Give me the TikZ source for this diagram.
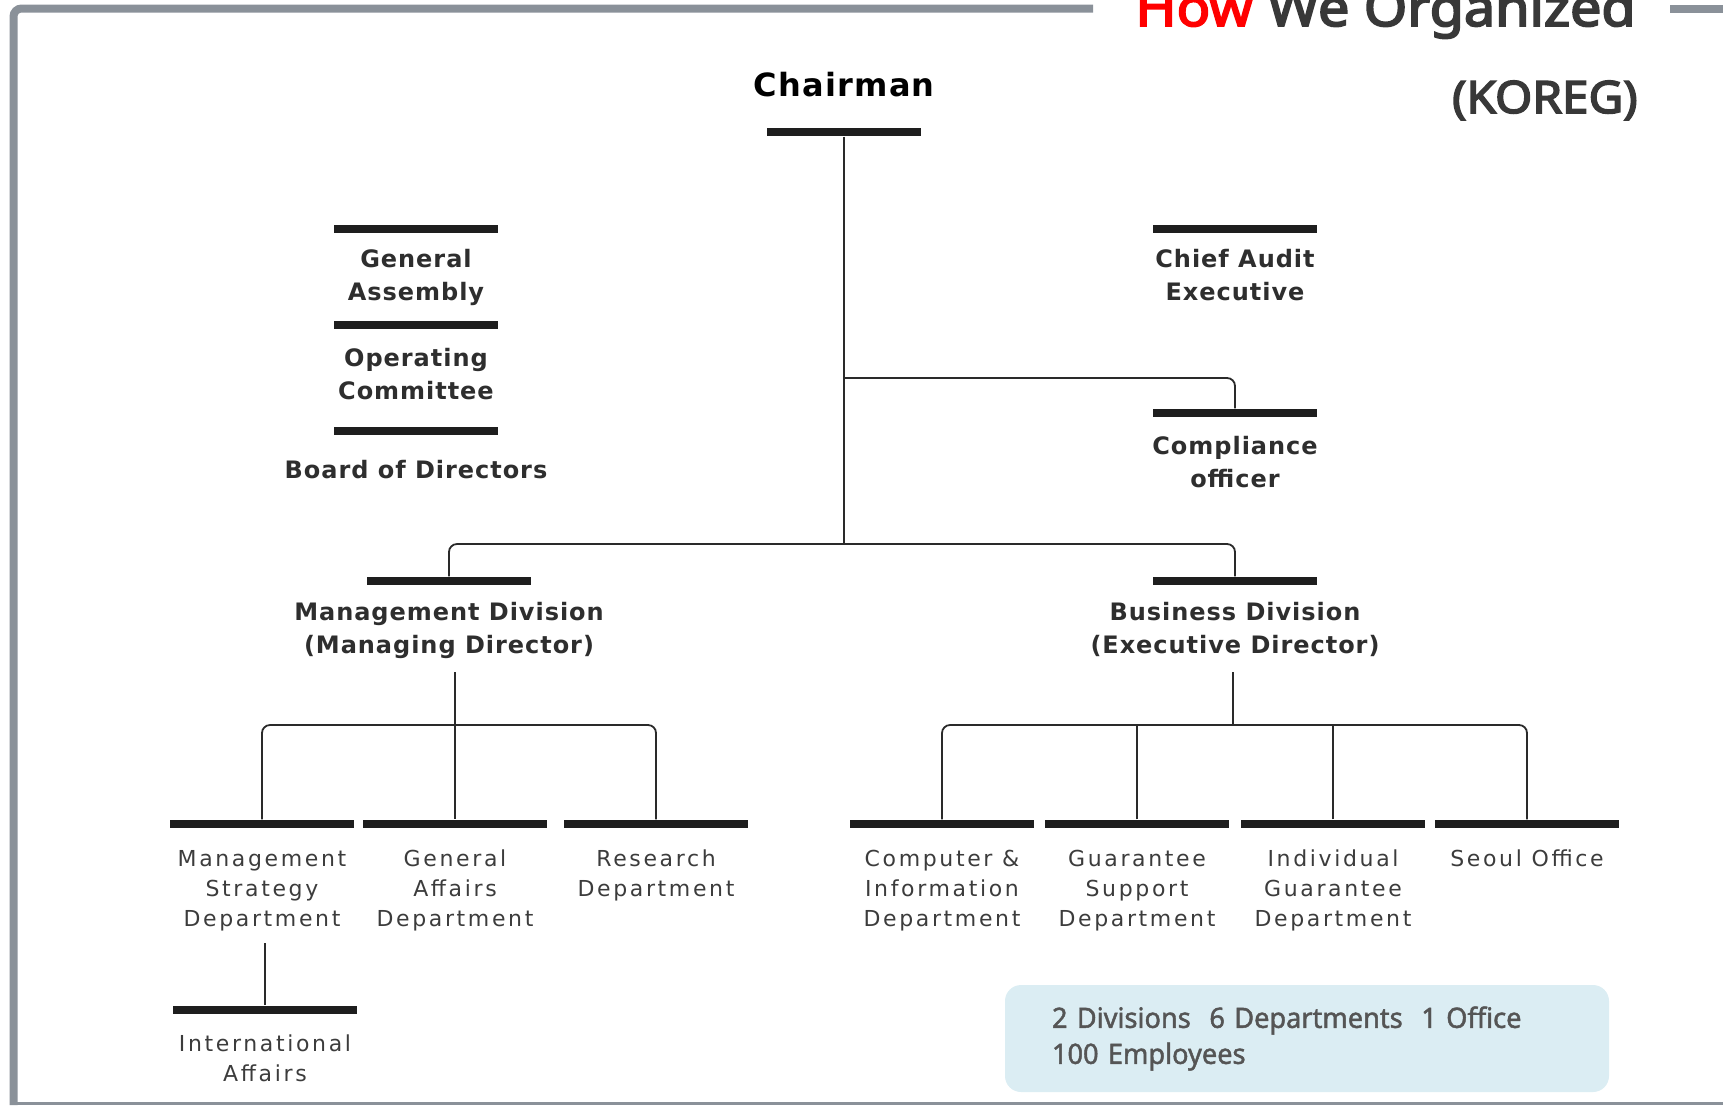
\documentclass[tikz,border=0pt]{standalone}
\usepackage{fontspec}
\usepackage{tikz}
\usetikzlibrary{positioning}
\setmainfont{DejaVu Sans}
\newfontfamily\orgfont[LetterSpace = 12]{DejaVu Sans}
\newfontfamily\orgboldfont[LetterSpace = 4]{DejaVu Sans}
\newfontfamily\titlefont[FakeBold = 3.6, FakeStretch = 1.07]{Noto Sans}
\newfontfamily\boxfont[FakeBold = 1.6, FakeStretch = 0.97]{Noto Sans}
\definecolor{framegray}{HTML}{8A9199}
\definecolor{titlered}{HTML}{FF0000}
\definecolor{titlegray}{HTML}{383838}
\definecolor{barblack}{HTML}{1E1E1E}
\definecolor{linegray}{HTML}{2A2A2A}
\definecolor{labelgray}{HTML}{2E2E2E}
\definecolor{deptgray}{HTML}{3C3C3C}
\definecolor{boxblue}{HTML}{DBEDF3}
\definecolor{boxgray}{HTML}{555555}

\begin{document}
\begin{tikzpicture}[x = .5pt, y = -.5pt,
  bar/.style = {fill = barblack, inner sep = 0pt, minimum width = 82pt, minimum height = 4.25pt},
  dbar/.style = {bar, minimum width = 92pt},
  blbl/.style = {align = center, inner sep = 0pt, text = labelgray, font = \orgboldfont\bfseries\fontsize{12}{16.5}\selectfont},
  dlbl/.style = {align = center, inner sep = 0pt, text = deptgray, font = \orgfont\fontsize{11}{15}\selectfont},
  conn/.style = {draw = linegray, line width = .9pt},
  frame/.style = {draw = framegray},
  sumbox/.style = {fill = boxblue, rounded corners = 8pt, minimum width = 302pt, minimum height = 53.5pt, text width = 255pt, inner xsep = 23.5pt, align = left, text = boxgray, font = \boxfont\fontsize{14}{18}\selectfont}]
  \useasboundingbox (0,0) rectangle (1723,1105);
  \draw[frame, line width = 4pt, rounded corners = 4pt] (1093,8.5) -- (13.5,8.5) -- (13.5,1105);
  \draw[frame, line width = 4pt] (1670,8.5) -- (1723,8.5);
  \draw[frame, line width = 1.5pt] (10,1103.5) -- (1723,1103.5);

  \node[anchor = base west, inner sep = 0pt, text = titlegray, font = \titlefont\fontsize{26}{30}\selectfont] (title) at (1135,26) {\textcolor{titlered}{How} We Organized};
  \node[anchor = base east, inner sep = 0pt, text = titlegray, font = \titlefont\fontsize{22.3}{26}\selectfont] (koreg) at (1638,113) {(KOREG)};

  \node[bar, minimum width = 77pt] (chair) at (844,132) {};
  \node[blbl, text = black, font = \orgboldfont\bfseries\fontsize{16}{20}\selectfont, above = 15pt of chair] (chairlbl) {Chairman};

  \node[bar] (ga) at (416,229) {};
  \node[blbl, below = 7.5pt of ga] (galbl) {General\\Assembly};
  \node[bar] (oc) at (416,325) {};
  \node[blbl, below = 9pt of oc] (oclbl) {Operating\\Committee};
  \node[bar] (bod) at (416,431) {};
  \node[blbl, below = 12pt of bod] (bodlbl) {Board of Directors};

  \node[bar] (cae) at (1235,229) {};
  \node[blbl, below = 7.5pt of cae] (caelbl) {Chief Audit\\Executive};
  \node[bar] (comp) at (1235,413) {};
  \node[blbl, below = 9pt of comp] (complbl) {Compliance\\officer};

  \node[bar] (mgmt) at (449,581) {};
  \node[blbl, below = 8pt of mgmt] (mgmtlbl) {Management Division\\(Managing Director)};
  \node[bar] (biz) at (1235,581) {};
  \node[blbl, below = 8pt of biz] (bizlbl) {Business Division\\(Executive Director)};

  \node[dbar] (msd) at (262,824) {};
  \node[dlbl, below = 10.5pt of msd] (msdlbl) {Management\\Strategy\\Department};
  \node[dbar] (gad) at (455,824) {};
  \node[dlbl, below = 10.5pt of gad] (gadlbl) {General\\Affairs\\Department};
  \node[dbar] (rsd) at (656,824) {};
  \node[dlbl, below = 10.5pt of rsd] (rsdlbl) {Research\\Department};
  \node[dbar] (cid) at (942,824) {};
  \node[dlbl, below = 10.5pt of cid] (cidlbl) {Computer \&\\Information\\Department};
  \node[dbar] (gsd) at (1137,824) {};
  \node[dlbl, below = 10.5pt of gsd] (gsdlbl) {Guarantee\\Support\\Department};
  \node[dbar] (igd) at (1333,824) {};
  \node[dlbl, below = 10.5pt of igd] (igdlbl) {Individual\\Guarantee\\Department};
  \node[dbar] (seo) at (1527,824) {};
  \node[dlbl, below = 10.5pt of seo] (seolbl) {Seoul Office};
  \node[dbar] (intl) at (265,1010) {};
  \node[dlbl, below = 10pt of intl] (intllbl) {International\\Affairs};

  \coordinate (cj) at (844,378);
  \coordinate (dj) at (844,544);
  \coordinate (mt) at (455,672);
  \coordinate (mj) at (455,725);
  \coordinate (bt) at (1233,672);
  \coordinate (bj) at (1233,725);
  \coordinate (it) at (265,943);

  \draw[conn] (chair) -- (dj);
  \draw[conn, rounded corners = 4pt] (cj) -| (comp);
  \draw[conn, rounded corners = 4pt] (mgmt) |- (dj) -| (biz);
  \draw[conn] (mt) -- (gad);
  \draw[conn, rounded corners = 4pt] (msd) |- (mj) -| (rsd);
  \draw[conn] (bt) -- (bj);
  \draw[conn, rounded corners = 4pt] (cid) |- (bj) -| (seo);
  \draw[conn] (gsd) -- (gsd |- bj);
  \draw[conn] (igd) -- (igd |- bj);
  \draw[conn] (it) -- (intl);

  \node[sumbox] (summary) at (1307,1038.5) {2 Divisions\ \ 6 Departments\ \ 1 Office\\100 Employees};
\end{tikzpicture}
\end{document}
